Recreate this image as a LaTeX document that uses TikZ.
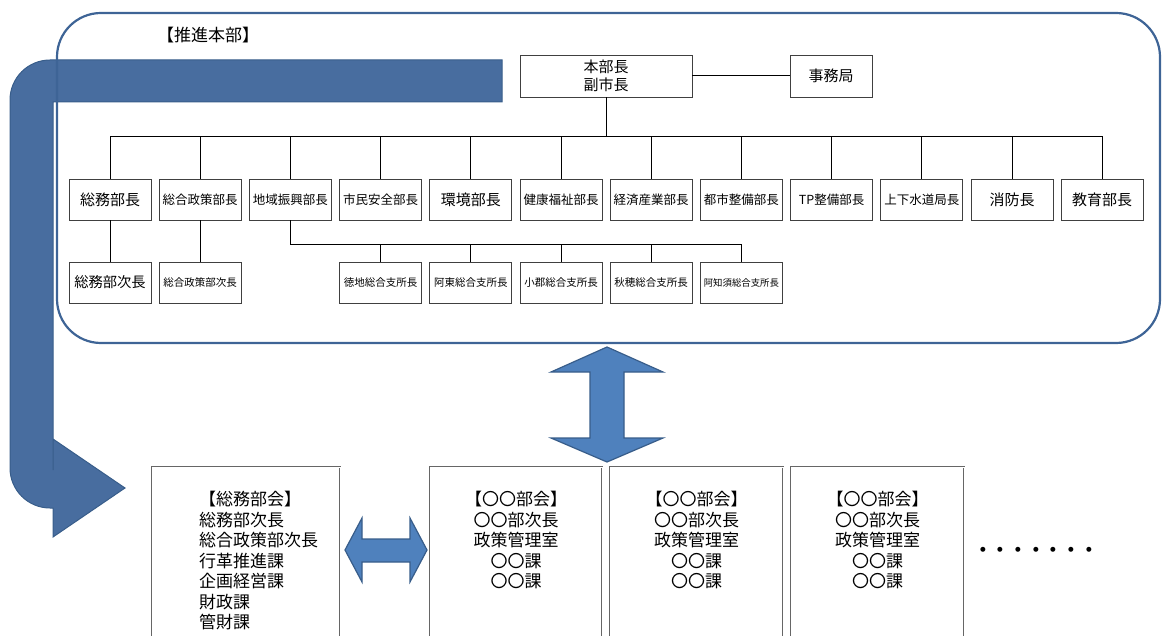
\documentclass[tikz,border=0pt]{standalone}
\usepackage{fontspec}
\setmainfont{Noto Sans CJK JP}
\definecolor{FrameBlue}{RGB}{62,100,150}
\definecolor{BendBlue}{RGB}{72,109,159}
\definecolor{ArrowBlue}{RGB}{79,129,189}
\definecolor{ArrowEdge}{RGB}{56,93,138}

\begin{document}
\begin{tikzpicture}[x=1pt,y=-1pt]
		\tikzstyle{Frame} = [rectangle, rounded corners=44pt, minimum width=1103pt, minimum height=330pt, draw=FrameBlue, line width=2.2pt]
		\tikzstyle{Post} = [rectangle, minimum width=82pt, minimum height=41pt, inner sep=0pt, text centered, draw=black!75, fill=white, line width=0.8pt]
		\tikzstyle{Big} = [font=\fontsize{15}{18}\selectfont]
		\tikzstyle{Mid} = [font=\fontsize{12.5}{15}\selectfont]
		\tikzstyle{Small} = [font=\fontsize{10.5}{12}\selectfont]
		\tikzstyle{Bukai} = [rectangle, minimum height=180pt, anchor=north, draw=black!60, double, double distance=1pt, line width=0.6pt]
		\tikzstyle{BukaiText} = [inner sep=0pt, font=\fontsize{17}{20.5}\selectfont]
		\tikzstyle{line} = [line width=1pt, black]
		\tikzstyle{BlockArrow} = [fill=ArrowBlue, draw=ArrowEdge, line width=1.2pt]
		
		\useasboundingbox (0,0) rectangle (1162,636);
		\clip (0,0) rectangle (1162,636);
		
		% bent arrow behind the frame
		\filldraw [fill=BendBlue, draw=ArrowEdge, line width=1pt] (502,60) [rounded corners=40pt] -- (10,60) -- (10,508) [sharp corners] -- (53,508) -- (53,537) -- (125,488) -- (53,439) -- (53,470) -- (53,102) -- (502,102) -- cycle;
		
		\node (suishin) [Frame] at (608.5,178) {};
		\node (suishinLabel) [font=\fontsize{17}{20}\selectfont] at (208,35) {【推進本部】};
		
		\node (honbu) [Post, Big, minimum width=172pt, minimum height=42pt, align=center] at (606,76) {本部長\\副市長};
		\node (jimu) [Post, Big, minimum height=42pt] at (831,76) {事務局};
		
		\node (soumu) [Post, Big] at (110,199.5) {総務部長};
		\node (seisaku) [Post, Mid] at (200.2,199.5) {総合政策部長};
		\node (chiiki) [Post, Mid] at (290.4,199.5) {地域振興部長};
		\node (shimin) [Post, Mid] at (380.6,199.5) {市民安全部長};
		\node (kankyo) [Post, Big] at (470.8,199.5) {環境部長};
		\node (kenko) [Post, Mid] at (561,199.5) {健康福祉部長};
		\node (keizai) [Post, Mid] at (651.2,199.5) {経済産業部長};
		\node (toshi) [Post, Mid] at (741.4,199.5) {都市整備部長};
		\node (tp) [Post, Mid] at (831.6,199.5) {TP整備部長};
		\node (suido) [Post, Mid] at (921.8,199.5) {上下水道局長};
		\node (shobo) [Post, Big] at (1012,199.5) {消防長};
		\node (kyoiku) [Post, Big] at (1102.2,199.5) {教育部長};
		
		\node (soumuJi) [Post, font=\fontsize{14.3}{16}\selectfont] at (110,282.5) {総務部次長};
		\node (seisakuJi) [Post, Small] at (200.2,282.5) {総合政策部次長};
		\node (tokuji) [Post, Small] at (380.6,282.5) {徳地総合支所長};
		\node (ato) [Post, Small] at (470.8,282.5) {阿東総合支所長};
		\node (ogori) [Post, Small] at (561,282.5) {小郡総合支所長};
		\node (aio) [Post, Small] at (651.2,282.5) {秋穂総合支所長};
		\node (ajisu) [Post, font=\fontsize{9.4}{11}\selectfont] at (741.4,282.5) {阿知須総合支所長};
		
		\coordinate (bus) at (606,137);
		\coordinate (sisho) at (290.4,245);
		\draw [line] (honbu) -- (jimu);
		\draw [line] (honbu.south) -- (bus);
		\foreach \n in {soumu, seisaku, chiiki, shimin, kankyo, kenko, keizai, toshi, tp, suido, shobo, kyoiku}
			\draw [line] (\n.north) |- (bus);
		\draw [line] (soumu) -- (soumuJi);
		\draw [line] (seisaku) -- (seisakuJi);
		\draw [line] (chiiki.south) -- (sisho);
		\foreach \n in {tokuji, ato, ogori, aio, ajisu}
			\draw [line] (\n.north) |- (sisho);
		
		% bukai boxes
		\node (soumuBukai) [Bukai, minimum width=188pt] at (246,467) {};
		\node (bukaiA) [Bukai, minimum width=172pt] at (516,467) {};
		\node (bukaiB) [Bukai, minimum width=173pt] at (696.5,467) {};
		\node (bukaiC) [Bukai, minimum width=173pt] at (877.5,467) {};
		\node (soumuBukaiText) [BukaiText, align=left, anchor=north west] at (199,491) {【総務部会】\\総務部次長\\総合政策部次長\\行革推進課\\企画経営課\\財政課\\管財課};
		\node (bukaiAText) [BukaiText, align=center, anchor=north] at (516,491) {【〇〇部会】\\〇〇部次長\\政策管理室\\〇〇課\\〇〇課};
		\node (bukaiBText) [BukaiText, align=center, anchor=north] at (696.5,491) {【〇〇部会】\\〇〇部次長\\政策管理室\\〇〇課\\〇〇課};
		\node (bukaiCText) [BukaiText, align=center, anchor=north] at (877.5,491) {【〇〇部会】\\〇〇部次長\\政策管理室\\〇〇課\\〇〇課};
		\node (more) [font=\bfseries\fontsize{17.7}{20}\selectfont] at (1036,552) {・・・・・・・};
		
		% block arrows
		\filldraw [BlockArrow] (607,347) -- (663,372) -- (624,372) -- (624,438) -- (663,438) -- (607,462) -- (551,438) -- (590,438) -- (590,372) -- (551,372) -- cycle;
		\filldraw [BlockArrow] (345,550) -- (362,518) -- (362,539) -- (410,539) -- (410,518) -- (427,550) -- (410,582) -- (410,562) -- (362,562) -- (362,582) -- cycle;
\end{tikzpicture}
\end{document}
